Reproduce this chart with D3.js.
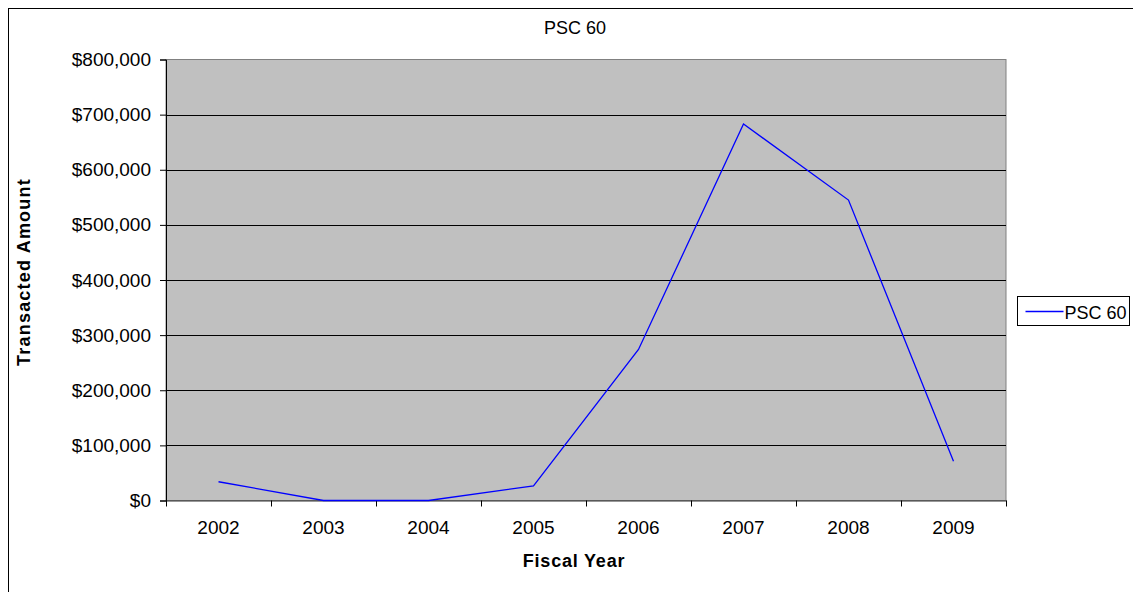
<!DOCTYPE html>
<html>
<head>
<meta charset="utf-8">
<script src="https://cdn.jsdelivr.net/npm/d3@7"></script>
<style>
  body { margin: 0; background: #fff; }
  text { font-family: "Liberation Sans", Arial, sans-serif; fill: #000; }
</style>
</head>
<body>
<script>
const years = ['2002', '2003', '2004', '2005', '2006', '2007', '2008', '2009'];
const amounts = [34000, 0, 0, 26500, 274000, 683000, 545000, 71000];
const yTicks = [0, 100000, 200000, 300000, 400000, 500000, 600000, 700000, 800000];
const seriesName = 'PSC 60';

const width = 1133;
const height = 592;
const plot = { left: 166, top: 59.5, right: 1006, bottom: 500.5 };

const svg = d3.select('body').append('svg')
  .attr('width', width)
  .attr('height', height);

// outer chart frame
svg.append('rect')
  .attr('x', 8.5).attr('y', 8.5)
  .attr('width', 1140).attr('height', 600)
  .attr('fill', 'none').attr('stroke', '#000');

const x = d3.scaleBand()
  .domain(years)
  .range([plot.left, plot.right]);

const y = d3.scaleLinear()
  .domain([0, 800000])
  .range([plot.bottom, plot.top]);

// plot background
svg.append('rect')
  .attr('x', plot.left).attr('y', plot.top)
  .attr('width', plot.right - plot.left).attr('height', plot.bottom - plot.top)
  .attr('fill', '#c0c0c0')
  .attr('stroke', '#808080');

// gridlines
svg.append('g')
  .selectAll('line')
  .data(yTicks.filter(d => d > 0 && d < 800000))
  .join('line')
  .attr('x1', plot.left).attr('x2', plot.right)
  .attr('y1', d => Math.round(y(d)) + 0.5).attr('y2', d => Math.round(y(d)) + 0.5)
  .attr('stroke', '#000');

// y axis
const yAxis = svg.append('g')
  .attr('transform', `translate(${plot.left},0)`)
  .call(d3.axisLeft(y).tickValues(yTicks).tickSize(6).tickPadding(9)
    .tickFormat(d => '$' + d3.format(',')(d)));
yAxis.selectAll('text').style('font-size', '19px');
yAxis.select('.domain').attr('stroke', '#000');

// x axis
const xAxis = svg.append('g')
  .attr('transform', `translate(0,${plot.bottom})`)
  .call(d3.axisBottom(x).tickSize(0).tickPadding(20));
xAxis.selectAll('text').style('font-size', '19px');
xAxis.select('.domain').attr('stroke', '#333');
xAxis.append('g')
  .selectAll('line')
  .data(years.map(d => x(d)).concat([plot.right]))
  .join('line')
  .attr('x1', d => Math.round(d) + 0.5).attr('x2', d => Math.round(d) + 0.5)
  .attr('y1', 0).attr('y2', 6)
  .attr('stroke', '#000');

// line
const line = d3.line()
  .x((d, i) => x(years[i]) + x.bandwidth() / 2)
  .y(d => y(d));

svg.append('path')
  .datum(amounts)
  .attr('d', line)
  .attr('fill', 'none')
  .attr('stroke', '#0000ff')
  .attr('stroke-width', 1.3);

// title and axis labels
svg.append('text')
  .attr('x', 575).attr('y', 34)
  .attr('text-anchor', 'middle')
  .style('font-size', '18px')
  .text(seriesName);

svg.append('text')
  .attr('x', 574).attr('y', 567)
  .attr('text-anchor', 'middle')
  .style('font-size', '18px').style('font-weight', 'bold')
  .style('letter-spacing', '0.8px')
  .text('Fiscal Year');

svg.append('text')
  .attr('transform', 'translate(30,272) rotate(-90)')
  .attr('text-anchor', 'middle')
  .style('font-size', '18px').style('font-weight', 'bold')
  .style('letter-spacing', '1.2px')
  .text('Transacted Amount');

// legend
const legend = svg.append('g').attr('transform', 'translate(1017.5,296.5)');
legend.append('rect')
  .attr('width', 112).attr('height', 29)
  .attr('fill', '#fff').attr('stroke', '#000');
legend.append('line')
  .attr('x1', 8).attr('x2', 46)
  .attr('y1', 15).attr('y2', 15)
  .attr('stroke', '#0000ff').attr('stroke-width', 1.3);
legend.append('text')
  .attr('x', 47).attr('y', 22)
  .style('font-size', '18px')
  .text(seriesName);
</script>
</body>
</html>
